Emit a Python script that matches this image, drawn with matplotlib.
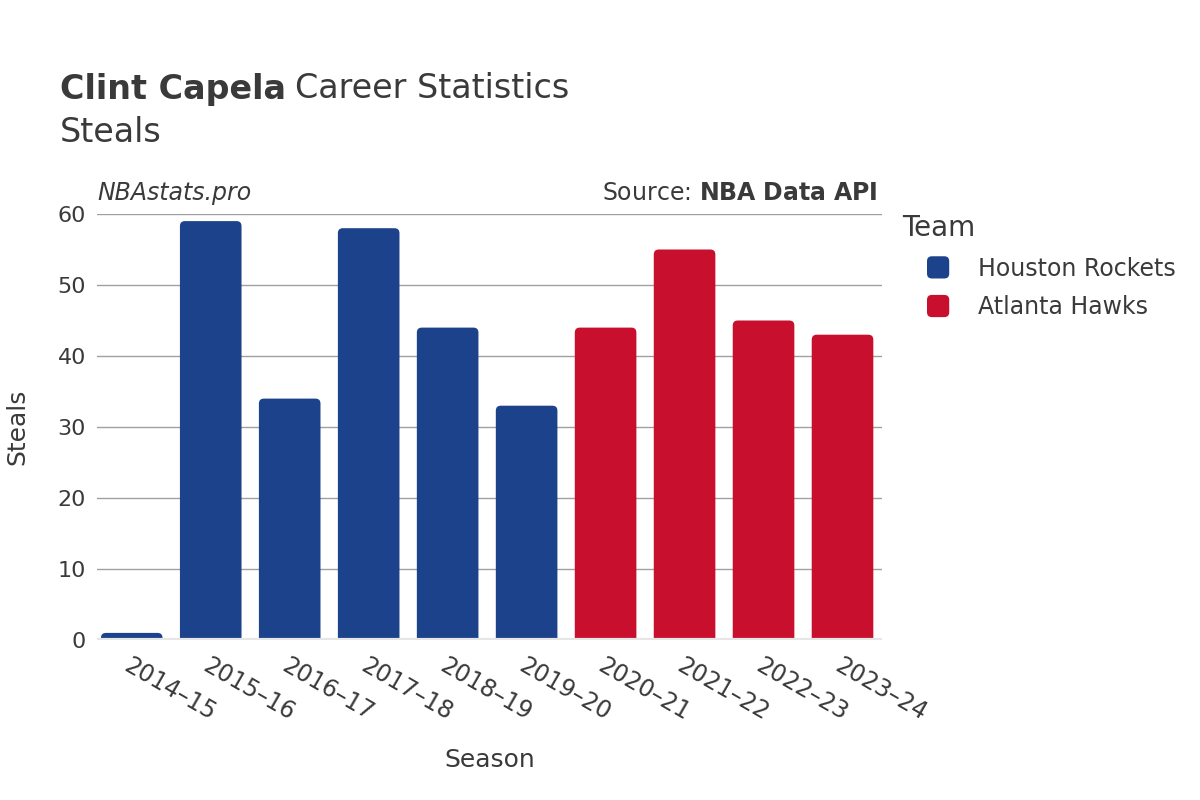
import matplotlib.pyplot as plt
from matplotlib.patches import FancyBboxPatch, Patch
from matplotlib.legend_handler import HandlerPatch

seasons = ["2014–15", "2015–16", "2016–17", "2017–18", "2018–19",
           "2019–20", "2020–21", "2021–22", "2022–23", "2023–24"]
steals = [1, 59, 34, 58, 44, 33, 44, 55, 45, 43]
teams = ["Houston Rockets"] * 6 + ["Atlanta Hawks"] * 4
team_colors = {"Houston Rockets": "#1B428A", "Atlanta Hawks": "#C8102E"}

plt.rcParams['font.family'] = ['DejaVu Sans']
txt = "#3a3a3a"

fig = plt.figure(figsize=(12, 8), dpi=100)
ax = fig.add_axes([97 / 1200, 1 - 640 / 800, 785 / 1200, 426 / 800])

x0, x1 = -0.44, len(seasons) - 0.5
ax.set_xlim(x0, x1)
ax.set_ylim(0, 60)

# bar geometry in data units -> rounded top corners
w = 0.78
r_px = 5
x_per_px = (x1 - x0) / 785
y_per_px = 60 / 426
rx = r_px * x_per_px
aspect = y_per_px / x_per_px
for i, (v, t) in enumerate(zip(steals, teams)):
    bottom = -2
    p = FancyBboxPatch((i - w / 2, bottom), w, v - bottom,
                       boxstyle=f"round,pad=0,rounding_size={rx}",
                       mutation_aspect=aspect,
                       facecolor=team_colors[t], edgecolor="none",
                       zorder=2, clip_on=True)
    ax.add_patch(p)

for s in ax.spines.values():
    s.set_visible(False)
ax.set_yticks(range(0, 61, 10))
ax.yaxis.grid(True, color="#a0a0a0", linewidth=1)
ax.set_axisbelow(True)
ax.axhline(0, color="#e6e6e6", linewidth=3, zorder=3)
ax.tick_params(axis="y", length=0, labelsize=16, labelcolor=txt, pad=8)
ax.tick_params(axis="x", length=0, labelsize=17, labelcolor=txt, pad=10)
ax.set_xticks(range(len(seasons)))
ax.set_xticklabels(seasons, rotation=-30, ha="left", va="top",
                   rotation_mode="anchor")

ax.set_ylabel("Steals", fontsize=18, color=txt, va="center")
ax.yaxis.set_label_coords(-(97 - 17) / 785, 0.5)
ax.set_xlabel("Season", fontsize=18, color=txt, va="center")
ax.xaxis.set_label_coords(0.5, -(760 - 640) / 426)

t1 = fig.text(60 / 1200, 1 - 89 / 800, "Clint Capela", fontsize=24, fontweight="bold",
              color=txt, va="center")
fig.canvas.draw()
bb = t1.get_window_extent()
fig.text((bb.x1 + 9) / 1200, 1 - 89 / 800, "Career Statistics", fontsize=24,
         color=txt, va="center")
fig.text(60 / 1200, 1 - 132 / 800, "Steals", fontsize=24, color=txt, va="center")

ax.text(0, 1.05, "NBAstats.pro", transform=ax.transAxes, fontsize=17,
        style="italic", color=txt, va="center", ha="left")
ax.text(0.9945, 1.05, r"Source: $\bf{NBA\ Data\ API}$", transform=ax.transAxes,
        fontsize=17, color=txt, va="center", ha="right")


class RoundHandler(HandlerPatch):
    def create_artists(self, legend, orig_handle, xdescent, ydescent,
                       width, height, fontsize, trans):
        s = 16
        p = FancyBboxPatch((xdescent + width - s, ydescent + (height - s) / 2),
                           s, s, boxstyle=f"round,pad=0,rounding_size={s * 0.22}",
                           facecolor=orig_handle.get_facecolor(), edgecolor="none",
                           transform=trans)
        return [p]


handles = [Patch(facecolor=team_colors[k], label=k) for k in team_colors]
leg = fig.legend(handles=handles, title="Team", loc="upper left",
                 bbox_to_anchor=(902 / 1200, 1 - 214 / 800), frameon=False,
                 borderpad=0, borderaxespad=0,
                 fontsize=17, title_fontsize=20, handler_map={Patch: RoundHandler()},
                 handlelength=2.0, handletextpad=1.2, labelspacing=0.62)
leg._legend_box.align = "left"
for t in leg.get_texts():
    t.set_color(txt)
leg.get_title().set_color(txt)

fig.savefig("out.png", dpi=100)
